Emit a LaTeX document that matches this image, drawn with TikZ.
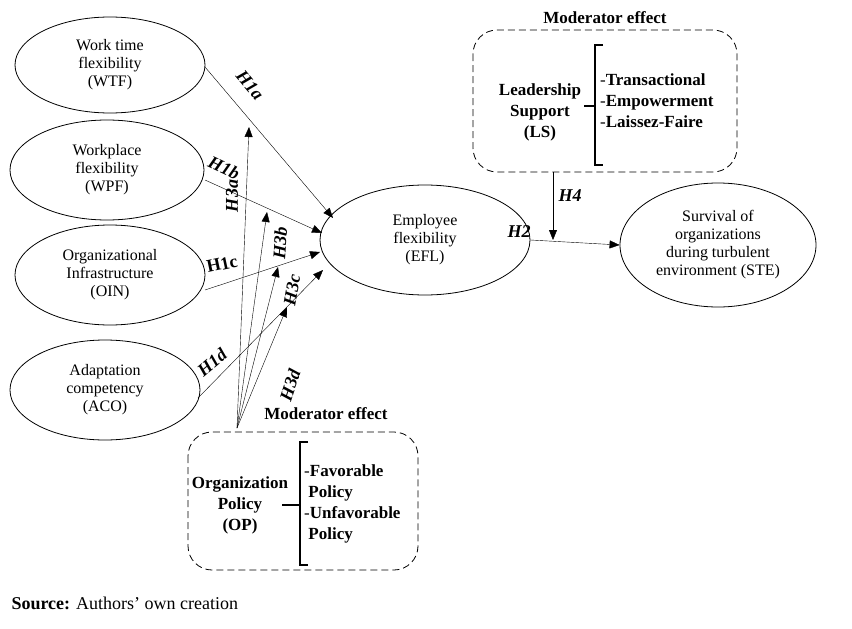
\documentclass[tikz,border=0pt]{standalone}
\usepackage{fontspec}
\setmainfont{Liberation Serif}
\usetikzlibrary{arrows.meta,shapes.geometric}
\begin{document}
\begin{tikzpicture}[x=1pt,y=-1pt,
 lab/.style={font=\fontsize{16}{18}\selectfont,align=center,inner sep=0pt},
 hl/.style={font=\fontsize{18}{20}\selectfont\bfseries\itshape,inner sep=1pt},
 arr/.style={-{Triangle[length=10pt,width=8pt]}},
 box/.style={draw,thick,dashed,dash pattern=on 7pt off 4pt,rounded corners=24pt},
 bb/.style={font=\fontsize{17}{21}\selectfont\bfseries,align=center,inner sep=0pt}]
\useasboundingbox (0,0) rectangle (852,629);
\node[draw,thick,ellipse,minimum width=190,minimum height=96,lab] (wtf) at (110,65) {Work time\\flexibility\\(WTF)};
\node[draw,thick,ellipse,minimum width=194,minimum height=100,lab] (wpf) at (107,170) {Workplace\\flexibility\\(WPF)};
\node[draw,thick,ellipse,minimum width=190,minimum height=100,lab] (oin) at (110,275) {Organizational\\Infrastructure\\(OIN)};
\node[draw,thick,ellipse,minimum width=190,minimum height=100,lab] (aco) at (105,390) {Adaptation\\competency\\(ACO)};
\node[draw,thick,ellipse,minimum width=210,minimum height=110,lab] (efl) at (425,240) {Employee\\flexibility\\(EFL)};
\node[draw,thick,ellipse,minimum width=196,minimum height=124,lab] (ste) at (718,245) {Survival of\\organizations\\during turbulent\\environment (STE)};
% LS box
\draw[box] (473,30) rectangle (737,172);
\node[bb] (lstitle) at (605,18) {Moderator effect};
\node[bb] (ls) at (540,112) {Leadership\\Support\\(LS)};
\draw[line width=1.8pt] (603,45) -- (595,45) -- (595,165) -- (603,165);
\draw[line width=1.8pt] (595,106) -- (584,106);
\node[bb,anchor=west,align=left] (lsi) at (600,101) {\fontseries{m}\selectfont-\textbf{Transactional}\\\fontseries{m}\selectfont-\textbf{Empowerment}\\\fontseries{m}\selectfont-\textbf{Laissez-Faire}};
% OP box
\draw[box] (188,432) rectangle (418,570);
\node[bb] (optitle) at (326,414) {Moderator effect};
\node[bb] (op) at (240,505) {Organization\\Policy\\(OP)};
\draw[line width=1.8pt] (308,442) -- (300,442) -- (300,565) -- (308,565);
\draw[line width=1.8pt] (300,505) -- (282,505);
\node[bb,anchor=west,align=left] (opi) at (304,504) {\fontseries{m}\selectfont-\textbf{Favorable}\\\ \textbf{Policy}\\\fontseries{m}\selectfont-\textbf{Unfavorable}\\\ \textbf{Policy}};
\coordinate (src) at (237,428);
\coordinate (t1) at (249,127);
\coordinate (t2) at (267,212);
\coordinate (t3) at (278,267);
\coordinate (t4) at (287,307);
\draw[arr] (205,67) -- (333,218);
\draw[arr] (205,180) -- (322,233);
\draw[arr] (205,290) -- (320,252);
\draw[arr] (198,398) -- (323,270);
\foreach \t in {t1,t2,t3,t4} \draw[arr] (src) -- (\t);
\draw[arr] (efl.east) -- (ste.west);
\coordinate (h4) at (553,240);
\draw[arr] (553,172) -- (h4);
\node[hl,rotate=-50] (h1a) at (250,85) {H1a};
\node[hl,rotate=-25] (h1b) at (224,168) {H1b};
\node[hl,font=\fontsize{18}{20}\selectfont\bfseries,rotate=12] (h1c) at (222,264) {H1c};
\node[hl,rotate=40] (h1d) at (212,362) {H1d};
\node[hl,rotate=90] (h3a) at (232,196) {H3a};
\node[hl,rotate=86] (h3b) at (280,243) {H3b};
\node[hl,rotate=80] (h3c) at (292,290) {H3c};
\node[hl,rotate=72] (h3d) at (290,385) {H3d};
\node[hl] (h2) at (519,232) {H2};
\node[hl] (h4l) at (570,196) {H4};
\node[font=\fontsize{18}{20}\selectfont,anchor=west] (source) at (8,603) {\textbf{Source:} Authors’ own creation};
\end{tikzpicture}
\end{document}
